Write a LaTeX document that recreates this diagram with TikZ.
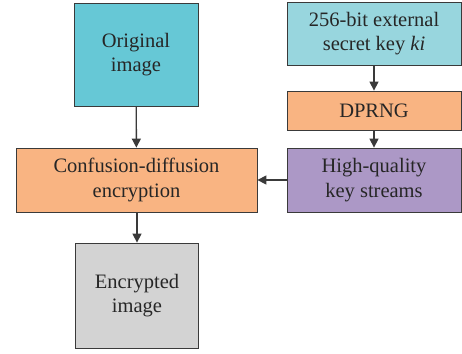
\documentclass[tikz,border=0pt]{standalone}
\usepackage{fontspec}
\setmainfont{Liberation Serif}
\usetikzlibrary{arrows.meta}
\definecolor{imgcol}{HTML}{66C8D6}
\definecolor{keycol}{HTML}{98D6DE}
\definecolor{salmoncol}{HTML}{F9B482}
\definecolor{streamcol}{HTML}{AC98C6}
\definecolor{grycol}{HTML}{D3D3D3}
\definecolor{edgecol}{HTML}{3A3A3A}
\tikzset{
  block/.style={draw=edgecol, line width=0.8pt, align=center, inner sep=0pt,
    font=\fontsize{20.5}{24.5}\selectfont, text=black!85},
  flow/.style={draw=edgecol, line width=1.4pt, -{Triangle[length=9pt,width=9pt]}}
}

\begin{document}
\begin{tikzpicture}[x=1pt, y=-1pt]
			%%%%% START %%%%%
			\useasboundingbox (0, 0) rectangle (462, 353);
			
			\node[block, fill=imgcol, minimum width=124pt, minimum height=103pt] (orig) at (136, 54.5) {Original\\image};
			\node[block, fill=keycol, minimum width=174pt, minimum height=63pt] (key) at (374, 33.5) {256-bit external\\secret key \textit{ki}};
			\node[block, fill=salmoncol, minimum width=174pt, minimum height=39pt] (dprng) at (374, 110.5) {DPRNG};
			\node[block, fill=streamcol, minimum width=174pt, minimum height=64pt] (streams) at (374, 180) {High-quality\\key streams};
			\node[block, fill=salmoncol, minimum width=241pt, minimum height=64pt] (confdiff) at (136.5, 180) {Confusion-diffusion\\encryption};
			\node[block, fill=grycol, minimum width=123pt, minimum height=105pt] (encimg) at (137, 295.5) {Encrypted\\image};
			
			\draw[flow] (orig) -- (confdiff);
			\draw[flow] (key) -- (dprng);
			\draw[flow] (dprng) -- (streams);
			\draw[flow] (streams) -- (confdiff);
			\draw[flow] (confdiff.south -| encimg) -- (encimg);
			
			%%%%% END %%%%%
\end{tikzpicture}
\end{document}
